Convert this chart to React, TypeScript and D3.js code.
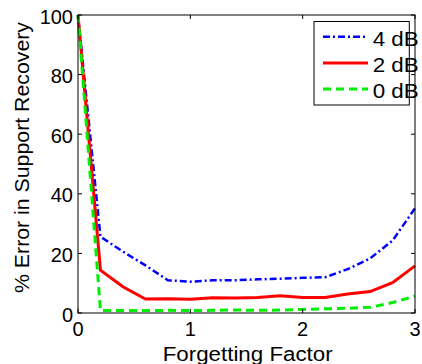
import React from "react";
import * as d3 from "d3";

// forgetting factor sampled every 0.2
const factors = [0, 0.2, 0.4, 0.6, 0.8, 1.0, 1.2, 1.4, 1.6, 1.8, 2.0, 2.2, 2.4, 2.6, 2.8, 3.0];
const err4dB = [100, 25.6, 20.6, 16, 11, 10.5, 11, 11, 11.3, 11.5, 11.8, 12, 14.7, 18.3, 24.3, 35.1];
const err2dB = [100, 14.4, 8.8, 4.7, 4.8, 4.6, 5.1, 5.0, 5.2, 5.8, 5.2, 5.2, 6.4, 7.2, 10.2, 15.8];
const err0dB = [100, 0.8, 0.8, 0.8, 0.9, 0.8, 0.9, 1.0, 0.9, 1.0, 1.2, 1.4, 1.6, 1.9, 3.5, 5.7];

const xTicks = [0, 1, 2, 3];
const yTicks = [0, 20, 40, 60, 80, 100];

const series = [
  { name: "4 dB", values: err4dB, color: "#0000ff", dash: "7,3,2,3", width: 2.5 },
  { name: "2 dB", values: err2dB, color: "#ff0000", dash: "", width: 3 },
  { name: "0 dB", values: err0dB, color: "#00ee00", dash: "8,5", width: 3 },
];

const W = 422;
const H = 364;
const left = 78;
const right = 415;
const top = 15;
const bottom = 313;
const font = "Liberation Sans, Arial, Helvetica, sans-serif";

export default function App() {
  const x = d3.scaleLinear().domain([0, 3]).range([left, right]);
  const y = d3.scaleLinear().domain([0, 100]).range([bottom, top]);

  const line = (vals: number[]) =>
    d3
      .line<number>()
      .x((_, i) => x(factors[i]))
      .y((d) => y(d))(vals) || "";

  const tickLen = 4;

  return (
    <svg
      width={W}
      height={H}
      style={{ position: "absolute", left: 0, top: 0, background: "#fff" }}
      fontFamily={font}
    >
      <rect x={0} y={0} width={W} height={H} fill="#fff" />

      {series.map((s) => (
        <path
          key={s.name}
          d={line(s.values)}
          fill="none"
          stroke={s.color}
          strokeWidth={s.width}
          strokeDasharray={s.dash || undefined}
        />
      ))}

      {/* axes box */}
      <rect x={left} y={top} width={right - left} height={bottom - top} fill="none" stroke="#000" strokeWidth={1} />

      {xTicks.map((t) => (
        <g key={"x" + t}>
          <line x1={x(t)} x2={x(t)} y1={bottom} y2={bottom - tickLen} stroke="#000" />
          <line x1={x(t)} x2={x(t)} y1={top} y2={top + tickLen} stroke="#000" />
          <text x={x(t)} y={336} fontSize={20} textAnchor="middle">
            {t}
          </text>
        </g>
      ))}

      {yTicks.map((t) => (
        <g key={"y" + t}>
          <line x1={left} x2={left + tickLen} y1={y(t)} y2={y(t)} stroke="#000" />
          <line x1={right} x2={right - tickLen} y1={y(t)} y2={y(t)} stroke="#000" />
          <text x={73} y={y(t) + 8.5} fontSize={20} textAnchor="end">
            {t}
          </text>
        </g>
      ))}

      <text
        x={247.7}
        y={361}
        fontSize={20}
        textAnchor="middle"
        textLength={170}
        lengthAdjust="spacingAndGlyphs"
      >
        Forgetting Factor
      </text>
      <text
        transform={`translate(28.5, 157.5) rotate(-90)`}
        fontSize={20}
        textAnchor="middle"
        textLength={271}
        lengthAdjust="spacingAndGlyphs"
      >
        % Error in Support Recovery
      </text>

      {/* legend */}
      <rect x={314} y={21.5} width={95.3} height={83.5} fill="#fff" stroke="#000" strokeWidth={1} />
      {series.map((s, i) => {
        const ly = 36.7 + i * 26.2;
        return (
          <g key={"lg" + s.name}>
            <line
              x1={323}
              x2={368}
              y1={ly}
              y2={ly}
              stroke={s.color}
              strokeWidth={s.width}
              strokeDasharray={s.dash || undefined}
            />
            <text
              x={372.7}
              y={ly + 9}
              fontSize={21}
              textLength={46}
              lengthAdjust="spacingAndGlyphs"
            >
              {s.name}
            </text>
          </g>
        );
      })}
    </svg>
  );
}
